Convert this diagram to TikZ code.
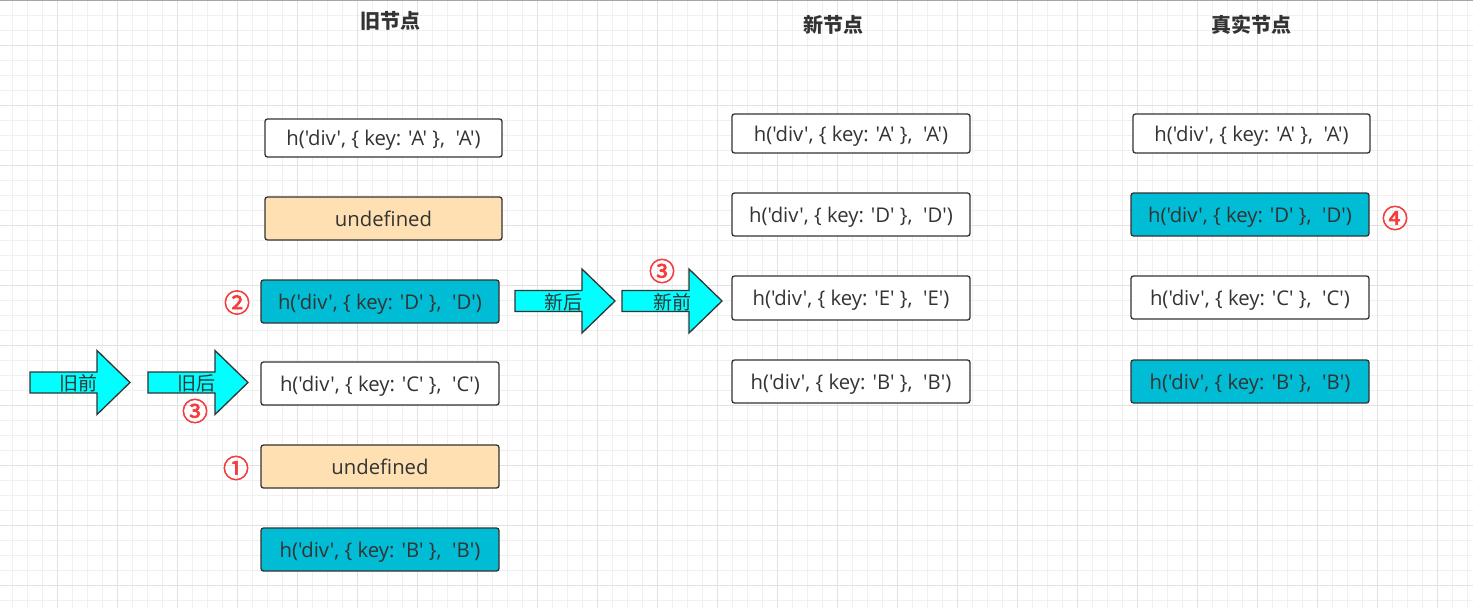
\documentclass[tikz,border=0pt]{standalone}
\usepackage{fontspec}
\defaultfontfeatures{}
\setmainfont{Open Sans}
\newfontfamily\cnfont{Noto Sans CJK SC}
\newfontfamily\latfont{Open Sans}
\newfontfamily\numfont{Noto Sans CJK SC}[FakeBold=2.5]
\definecolor{gridminor}{HTML}{F0F0F0}
\definecolor{gridmajor}{HTML}{E2E2E2}
\definecolor{boxline}{HTML}{333333}
\definecolor{tealfill}{HTML}{00BCD4}
\definecolor{peachfill}{HTML}{FFE0B2}
\definecolor{arrowfill}{HTML}{00FFFF}
\definecolor{numred}{HTML}{F53D3D}
\definecolor{txt}{HTML}{333333}
\tikzset{
  kbox/.style={draw=boxline, line width=1.3pt, rounded corners=2.5pt, fill=white,
    minimum width=238pt, minimum height=43pt, inner sep=0pt, text=txt,
    text height=17pt, text depth=2pt,
    font=\latfont\fontsize{20.3}{22}\selectfont},
  tealbox/.style={kbox, fill=tealfill},
  peachbox/.style={kbox, fill=peachfill},
  title/.style={font=\cnfont\bfseries\fontsize{20}{22}\selectfont, text=txt},
  bigarrowshape/.style={draw=boxline, line width=1.3pt, fill=arrowfill, line join=miter},
  arrowlabel/.style={font=\cnfont\fontsize{19}{21}\selectfont, text=txt, inner sep=0pt},
  num/.style={inner sep=0pt, font=\numfont\fontsize{26}{28}\selectfont, text=numred}
}
\newcommand{\fatarrow}[2]{%
  \draw[bigarrowshape] (#1,#2-10.5) -- ++(67,0) -- ++(0,-21.5) -- ++(33,32) -- ++(-33,32) -- ++(0,-21.5) -- ++(-67,0) -- cycle;}
\begin{document}
\begin{tikzpicture}[x=1pt,y=-1pt]
\useasboundingbox (0,0) rectangle (1473,608);
\fill[white] (0,0) rectangle (1473,608);
% grid
\foreach \i in {0,...,98} {\draw[gridminor, line width=1pt] ({12.3+15*\i},0) -- ({12.3+15*\i},608);}
\foreach \i in {0,...,40} {\draw[gridminor, line width=1pt] (0,{15*\i}) -- (1473,{15*\i});}
\foreach \i in {0,...,24} {\draw[gridmajor, line width=1pt] ({57.3+60*\i},0) -- ({57.3+60*\i},608);}
\foreach \i in {0,...,9} {\draw[gridmajor, line width=1pt] (0,{45+60*\i}) -- (1473,{45+60*\i});}
\draw[gray!70, line width=1.5pt] (0,0.5) -- (1473,0.5);
% titles
\node[title] (t1) at (390,21) {旧节点};
\node[title] (t2) at (833,25) {新节点};
\node[title] (t3) at (1251,25) {真实节点};
% old column
\node[kbox, minimum width=237pt, minimum height=38pt] (oA) at (383.5,138) {h('div', \{ key: 'A' \},\ \ 'A')};
\node[peachbox, minimum width=237pt] (oU1) at (383.5,218.5) {undefined};
\node[tealbox] (oD) at (380,301.5) {h('div', \{ key: 'D' \},\ \ 'D')};
\node[kbox] (oC) at (380,383.5) {h('div', \{ key: 'C' \},\ \ 'C')};
\node[peachbox] (oU2) at (380,466.5) {undefined};
\node[tealbox] (oB) at (380,549.5) {h('div', \{ key: 'B' \},\ \ 'B')};
% new column
\node[kbox, minimum height=39pt] (nA) at (851,133.5) {h('div', \{ key: 'A' \},\ \ 'A')};
\node[kbox] (nD) at (851,214.5) {h('div', \{ key: 'D' \},\ \ 'D')};
\node[kbox, minimum height=44pt] (nE) at (851,298) {h('div', \{ key: 'E' \},\ \ 'E')};
\node[kbox] (nB) at (851,381.5) {h('div', \{ key: 'B' \},\ \ 'B')};
% real column
\node[kbox, minimum width=237pt, minimum height=39pt] (rA) at (1251.5,133.5) {h('div', \{ key: 'A' \},\ \ 'A')};
\node[tealbox] (rD) at (1250,214.5) {h('div', \{ key: 'D' \},\ \ 'D')};
\node[kbox] (rC) at (1250,297.5) {h('div', \{ key: 'C' \},\ \ 'C')};
\node[tealbox] (rB) at (1250,381.5) {h('div', \{ key: 'B' \},\ \ 'B')};
% fat arrows
\fatarrow{30}{382.5}
\node[arrowlabel] (a1) at (78,383) {旧前};
\fatarrow{148}{382.5}
\node[arrowlabel] (a2) at (196,383) {旧后};
\fatarrow{515}{301}
\node[arrowlabel] (a3) at (563,302) {新后};
\fatarrow{622}{301}
\node[arrowlabel] (a4) at (672,302) {新前};
% numbers
\node[num] (n2) at (237,302.5) {②};
\node[num] (n1) at (236,468) {①};
\node[num] (n3a) at (195,411) {③};
\node[num] (n3b) at (662,271) {③};
\node[num] (n4) at (1395,218) {④};
\end{tikzpicture}
\end{document}
